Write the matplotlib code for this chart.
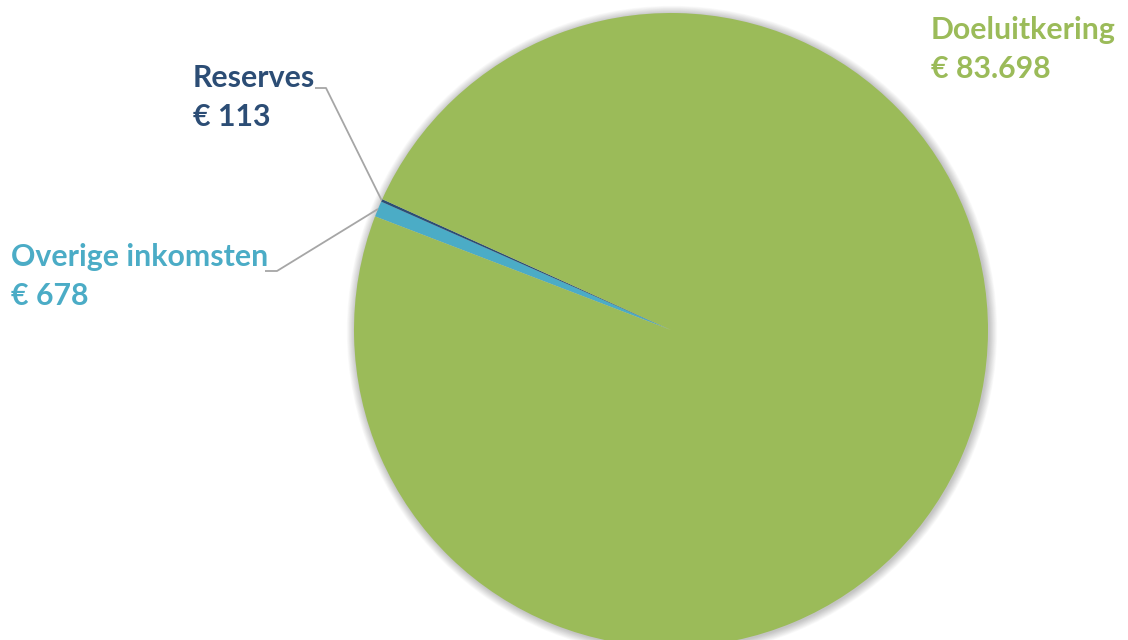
import numpy as np
import matplotlib
matplotlib.use("Agg")
import matplotlib.pyplot as plt
from matplotlib.patches import Circle

# data (in order drawn clockwise from the start angle)
labels = ["Overige inkomsten", "Reserves", "Doeluitkering"]
values = [678, 113, 83698]
value_text = ["€ 678", "€ 113", "€ 83.698"]
colors = ["#4BACC6", "#2C4D75", "#9BBB59"]

W, H = 1128, 640
fig = plt.figure(figsize=(W / 100, H / 100), dpi=100)
ax = fig.add_axes([0, 0, 1, 1])

cx, cy, r = 671, 640 - 330, 317

# soft shadow around the pie
for i in range(12):
    ax.add_patch(Circle((cx + 1, cy - 1), r + 0.5 + i * 0.7, color="black",
                        alpha=0.018, lw=0, zorder=0))

wedges, _ = ax.pie(values, colors=colors, startangle=159, counterclock=False,
                   center=(cx, cy), radius=r, frame=True,
                   wedgeprops=dict(linewidth=0))
for w in wedges:
    w.set_zorder(2)
ax.set_xlim(0, W)
ax.set_ylim(0, H)
ax.set_aspect("equal")
ax.axis("off")

font = "Lato"
fs = 21.8

# label positions (pixel coords from top)
pos = {
    "Overige inkomsten": (11, 257),
    "Reserves": (193, 78),
    "Doeluitkering": (931, 30),
}
for w, lab, vt, c in zip(wedges, labels, value_text, colors):
    x, ytop = pos[lab]
    ax.text(x, H - ytop, lab, color=c, fontsize=fs, fontweight="bold",
            family=font, va="center", ha="left")
    ax.text(x, H - ytop - 39, vt, color=c, fontsize=fs, fontweight="bold",
            family=font, va="center", ha="left")

# leader lines for the two small slices
leaders = {
    "Reserves": ((315, 88), (326, 88)),
    "Overige inkomsten": ((265, 271), (277, 271)),
}
for w, lab in zip(wedges, labels):
    if lab not in leaders:
        continue
    mid = np.deg2rad((w.theta1 + w.theta2) / 2)
    ex, ey = cx + r * np.cos(mid), cy + r * np.sin(mid)
    (x0, y0), (x1, y1) = leaders[lab]
    ax.plot([x0, x1, ex], [H - y0, H - y1, ey], color="#A6A6A6", lw=1.3,
            zorder=3, solid_capstyle="butt")

fig.savefig("out.png", dpi=100)
